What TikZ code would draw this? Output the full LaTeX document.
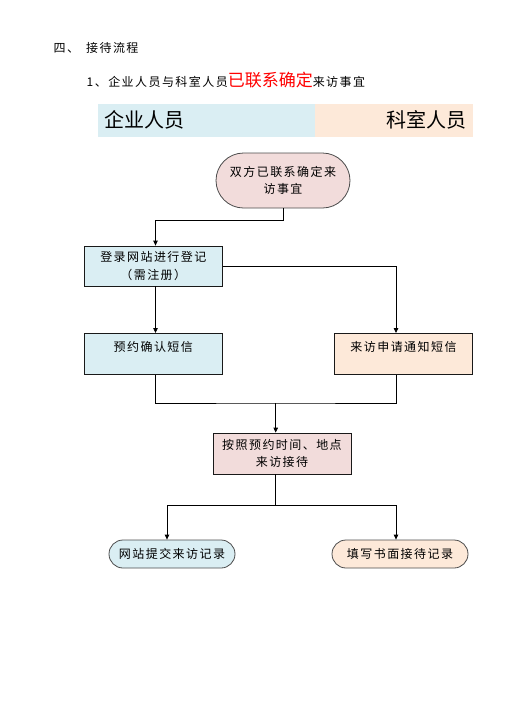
\documentclass[tikz,border=0pt]{standalone}
\usepackage{fontspec}
\setmainfont{Noto Sans CJK SC}
\newfontfamily\bodyfont[LetterSpace=12]{Noto Sans CJK SC}
\newfontfamily\heifont{Noto Sans CJK SC}
\usetikzlibrary{arrows.meta,shapes.misc}
\definecolor{pinkfill}{HTML}{F2DCDB}
\definecolor{bluefill}{HTML}{DAEEF3}
\definecolor{peachfill}{HTML}{FDE9D9}
\begin{document}
\begin{tikzpicture}[x=1pt,y=-1pt,
  every node/.style={font=\bodyfont\fontsize{12}{17.5}\selectfont},
  box/.style={draw=black!90,line width=0.8pt,minimum width=138.5pt,minimum height=40pt,align=center,inner sep=2pt},
  topbox/.style={box,anchor=north,inner ysep=4pt,text height=14pt,text depth=19pt,minimum height=41pt},
  startnode/.style={rounded rectangle,draw=black!70,line width=0.8pt,fill=pinkfill,minimum width=138pt,minimum height=55pt,align=center,inner sep=2pt},
  endnode/.style={rounded rectangle,draw=black!70,line width=0.8pt,minimum height=28pt,inner sep=2pt},
  arr/.style={-{Triangle[length=5pt,width=4.5pt]}},
  every path/.style={line width=0.8pt}]
\useasboundingbox (0,0) rectangle (521,724);
% headings
\node[anchor=west] (sec) at (50,48) {四、\hspace{7pt}接待流程};
\node[anchor=west] (sub) at (83,80) {1、企业人员与科室人员{\heifont\fontsize{17}{17}\selectfont\color{red}已联系确定}来访事宜};
% lanes
\fill[bluefill] (98,104) rectangle (315,137);
\fill[peachfill] (315,104) rectangle (473,137);
\node[anchor=west,font=\heifont\fontsize{20}{20}\selectfont] (ent) at (101,120) {企业人员};
\node[anchor=east,font=\heifont\fontsize{20}{20}\selectfont] (dept) at (470,120) {科室人员};
% columns
\coordinate (colL) at (155.5,0);
\coordinate (colR) at (396,0);
\coordinate (colE) at (167,0);
\coordinate (j1) at (155.5,220);
\coordinate (merge) at (275.7,403);
\coordinate (split) at (275.7,505);
% nodes
\node[startnode] (start) at (283,180.5) {双方已联系确定来\\访事宜};
\node[box,fill=bluefill] (reg) at (153.3,266) {登录网站进行登记\\（需注册）};
\node[topbox,fill=bluefill] (sms) at (153.3,333) {预约确认短信};
\node[topbox,fill=peachfill] (notice) at (403.5,333) {来访申请通知短信};
\node[box,fill=pinkfill,minimum width=138pt,minimum height=41pt] (visit) at (282,453.5) {按照预约时间、地点\\来访接待};
\node[endnode,fill=bluefill,minimum width=130pt] (webrec) at (172,554) {网站提交来访记录};
\node[endnode,fill=peachfill,minimum width=140pt] (paper) at (400,554) {填写书面接待记录};
% connectors
\draw[arr] (start.south) |- (j1) -- (j1 |- reg.north);
\draw[arr] (reg.east) -| (colR |- notice.north);
\draw[arr] (reg.south -| colL) -- (sms.north -| colL);
\draw (sms.south -| colL) |- (merge) -| (notice.south -| colR);
\draw[arr] (merge) -- (merge |- visit.north);
\draw (visit.south -| split) -- (split);
\draw[arr] (split) -| (colE |- webrec.north);
\draw[arr] (split) -| (colR |- paper.north);
\end{tikzpicture}
\end{document}
